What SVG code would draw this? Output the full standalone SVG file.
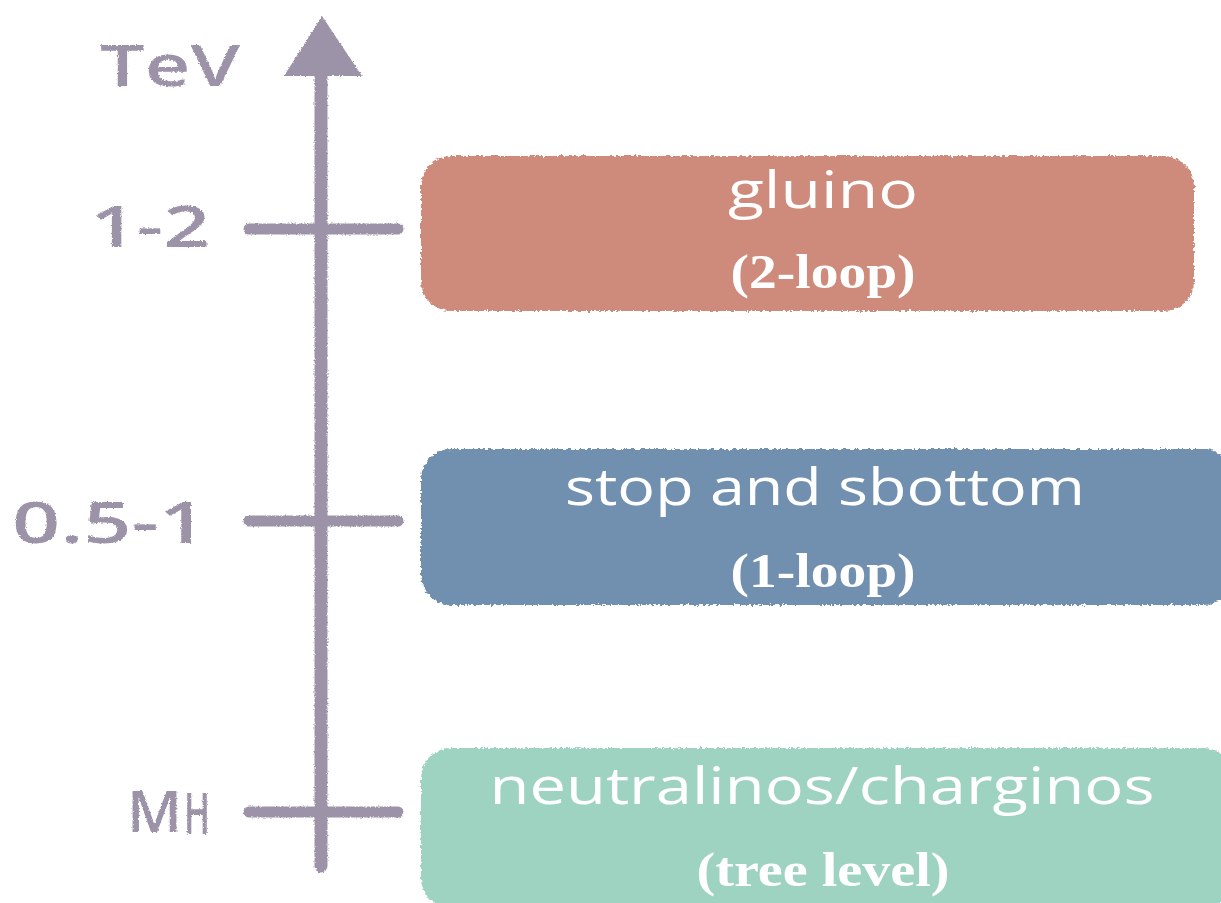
<svg xmlns="http://www.w3.org/2000/svg" width="1221" height="903" viewBox="0 0 1221 903">
<defs>
<filter id="rough" x="-5%" y="-5%" width="110%" height="110%">
<feTurbulence type="fractalNoise" baseFrequency="0.35" numOctaves="2" seed="3" result="n"/>
<feDisplacementMap in="SourceGraphic" in2="n" scale="5" xChannelSelector="R" yChannelSelector="G"/>
</filter>
<filter id="chalk" x="-5%" y="-5%" width="110%" height="110%">
<feTurbulence type="fractalNoise" baseFrequency="0.6" numOctaves="2" seed="7" result="n"/>
<feDisplacementMap in="SourceGraphic" in2="n" scale="3" xChannelSelector="R" yChannelSelector="G"/>
</filter>
</defs>
<style>
.ax{stroke:#9d93a8;stroke-linecap:round;fill:none}
.lbl{font-family:"Open Sans","DejaVu Sans",sans-serif;fill:#9d93a8;font-size:58px;font-weight:600}
.hand{font-family:"Open Sans","DejaVu Sans",sans-serif;fill:#ffffff;font-size:52px;font-weight:500;text-anchor:middle}
.ser{font-family:"Liberation Serif",serif;fill:#ffffff;font-size:48px;font-weight:bold;text-anchor:middle}
</style>
<rect width="1221" height="903" fill="#ffffff"/>
<g id="connectors" filter="url(#chalk)">
<path d="M284 76 L322 16 L362 76 Z" fill="#9d93a8"/>
<line x1="321" y1="72" x2="321" y2="866" class="ax" stroke-width="13"/>
<line x1="249" y1="229" x2="398" y2="229" class="ax" stroke-width="11"/>
<line x1="249" y1="521" x2="398" y2="521" class="ax" stroke-width="11"/>
<line x1="249" y1="812" x2="398" y2="812" class="ax" stroke-width="11"/>
</g>
<g id="axis-labels" filter="url(#chalk)">
<text class="lbl" x="100" y="86" textLength="140" lengthAdjust="spacingAndGlyphs">TeV</text>
<text class="lbl" x="90" y="247" textLength="120" lengthAdjust="spacingAndGlyphs">1-2</text>
<text class="lbl" x="12" y="543" textLength="195" lengthAdjust="spacingAndGlyphs">0.5-1</text>
<text class="lbl" x="127" y="832" textLength="55" lengthAdjust="spacingAndGlyphs">M</text>
<text class="lbl" x="184" y="834" font-size="36" textLength="26" lengthAdjust="spacingAndGlyphs">H</text>
</g>
<g id="gluino">
<rect x="421" y="156" width="773" height="155" rx="30" fill="#ce8a7a" filter="url(#rough)"/>
<text class="hand" x="823" y="208" textLength="190" lengthAdjust="spacingAndGlyphs">gluino</text>
<text class="ser" x="823" y="288" textLength="185" lengthAdjust="spacingAndGlyphs">(2-loop)</text>
</g>
<g id="stop">
<rect x="421" y="449" width="812" height="156" rx="30" fill="#718fae" filter="url(#rough)"/>
<text class="hand" x="825" y="505" textLength="520" lengthAdjust="spacingAndGlyphs">stop and sbottom</text>
<text class="ser" x="823" y="587" textLength="185" lengthAdjust="spacingAndGlyphs">(1-loop)</text>
</g>
<g id="neutralinos">
<rect x="421" y="748" width="812" height="160" rx="30" fill="#9dd3c0" filter="url(#rough)"/>
<text class="hand" x="822" y="804" textLength="665" lengthAdjust="spacingAndGlyphs">neutralinos/charginos</text>
<text class="ser" x="823" y="886" textLength="253" lengthAdjust="spacingAndGlyphs">(tree level)</text>
</g>
</svg>
